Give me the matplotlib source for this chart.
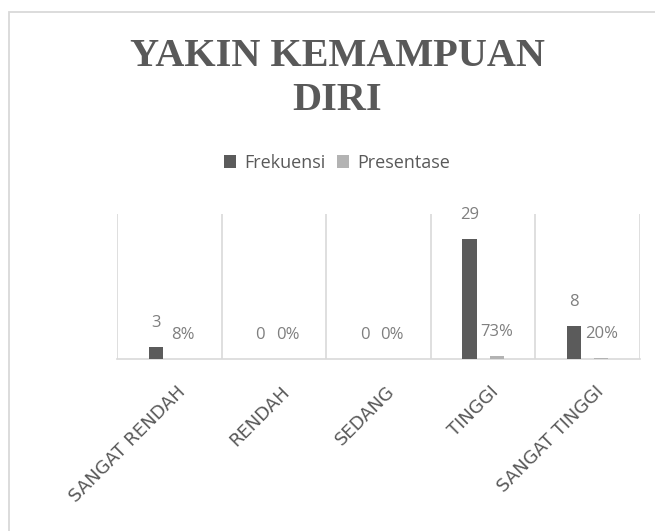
import matplotlib
matplotlib.use("Agg")
import matplotlib.pyplot as plt
from matplotlib.patches import Rectangle, Patch
import matplotlib.transforms as mtransforms
import numpy as np

categories = ["SANGAT RENDAH", "RENDAH", "SEDANG", "TINGGI", "SANGAT TINGGI"]
frekuensi = [3, 0, 0, 29, 8]
presentase = [0.08, 0.0, 0.0, 0.73, 0.20]
title = "YAKIN KEMAMPUAN\nDIRI"
series_names = ["Frekuensi", "Presentase"]

dark = "#5b5b5b"
light = "#b3b3b3"
text_gray = "#595959"
label_gray = "#7f7f7f"
grid_gray = "#d9d9d9"
font = "Open Sans"

W, H = 655, 531
fig = plt.figure(figsize=(W / 100, H / 100), dpi=100)
fig.patch.set_facecolor("white")

# outer chart frame (cropped on right and bottom)
fig.patches.append(Rectangle((9.3 / W, -0.1), 1.2, 1 - 11.7 / H + 0.1,
                             transform=fig.transFigure, facecolor="white",
                             edgecolor=grid_gray, lw=1.3, zorder=-10))

left, right, top, bottom = 117, 640, 214.5, 359.3
ax = fig.add_axes([left / W, 1 - bottom / H, (right - left) / W, (bottom - top) / H])
ax.set_facecolor("none")
ax.set_zorder(5)

x = np.arange(len(categories))
bw = 0.134
off = 0.13
ax.bar(x - off, frekuensi, width=bw, color=dark, zorder=3)
ax.bar(x + off, presentase, width=bw, color=light, zorder=3)

for xi, v in zip(x, frekuensi):
    ax.annotate(f"{v}", (xi - off, v), xytext=(0, 17.5), textcoords="offset points",
                ha="center", va="center", fontsize=12, color=label_gray, family=font,
                annotation_clip=False)
for xi, v in zip(x, presentase):
    ax.annotate(f"{v:.0%}", (xi + off, v), xytext=(0, 17.5), textcoords="offset points",
                ha="center", va="center", fontsize=12, color=label_gray, family=font,
                annotation_clip=False)

ax.set_xlim(-0.5, len(categories) - 0.5)
ax.set_ylim(0, 35)
for b in np.arange(-0.5, len(categories), 1.0):
    ax.axvline(b, color=grid_gray, lw=1.2, zorder=1)
for s in ["left", "right", "top"]:
    ax.spines[s].set_visible(False)
ax.spines["bottom"].set_color(grid_gray)
ax.spines["bottom"].set_linewidth(1.2)
ax.set_yticks([])
ax.set_xticks(x)
ax.set_xticklabels(categories, rotation=45, ha="right", va="center",
                   rotation_mode="anchor", fontsize=13, color=text_gray,
                   family="DejaVu Sans")
ax.tick_params(axis="x", length=0, pad=0)
shift = mtransforms.ScaledTranslation(13 / 100, -30 / 100, fig.dpi_scale_trans)
for lbl in ax.get_xticklabels():
    lbl.set_transform(lbl.get_transform() + shift)

fig.text(337 / W, 1 - 78.5 / H, title, ha="center", va="center", fontsize=29,
         fontweight="bold", family="Liberation Serif", color=text_gray, linespacing=1.25)

handles = [Patch(facecolor=dark, edgecolor="none"), Patch(facecolor=light, edgecolor="none")]
leg = fig.legend(handles, series_names, loc="center", bbox_to_anchor=(337 / W, 1 - 162.5 / H),
                 ncol=2, frameon=False, handlelength=0.7, handleheight=0.7,
                 handletextpad=0.45, columnspacing=0.6, prop={"family": font, "size": 13})
for t in leg.get_texts():
    t.set_color(text_gray)

fig.savefig("out.png", dpi=100)
